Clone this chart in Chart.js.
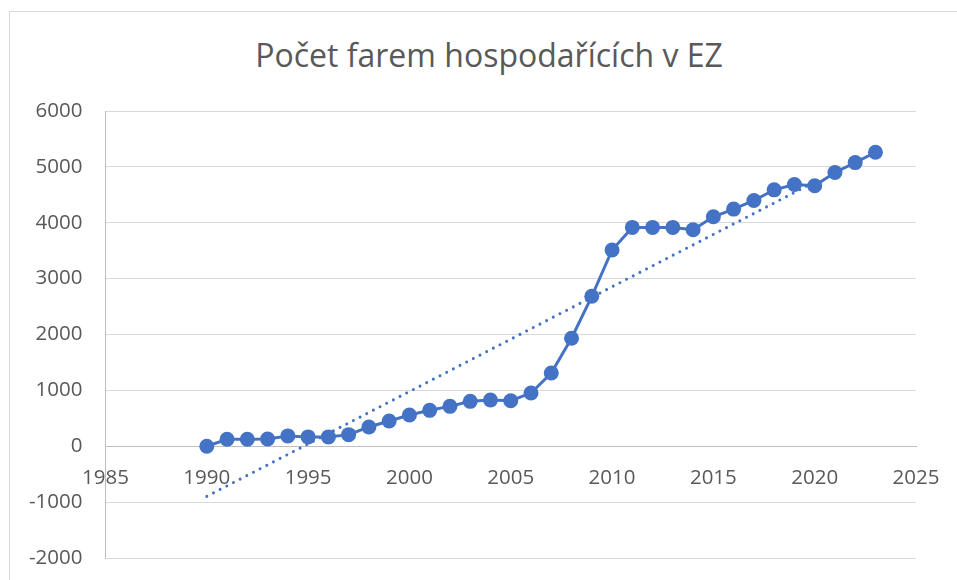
<!DOCTYPE html>
<html>
<head>
<meta charset="utf-8">
<script src="https://cdn.jsdelivr.net/npm/chart.js@4/dist/chart.umd.min.js"></script>
<style>
  body { margin: 0; background: #fff; overflow: hidden; }
  #frame {
    position: absolute; left: 9px; top: 11px;
    width: 2000px; height: 2000px;
    border: 1px solid #d9d9d9;
  }
  #title {
    position: absolute; left: 189px; top: 39px; width: 600px;
    text-align: center;
    font-family: "Open Sans", sans-serif; font-size: 32px; line-height: 32px;
    color: #595959; white-space: nowrap;
  }
  #chart { position: absolute; left: 0; top: 0; }
</style>
</head>
<body>
<div id="frame"></div>
<div id="title">Počet farem hospodařících v EZ</div>
<canvas id="chart" width="957" height="580"></canvas>
<script>
// ── data ──────────────────────────────────────────────────────────────────────

var years = [1990, 1991, 1992, 1993, 1994, 1995, 1996, 1997, 1998, 1999,
             2000, 2001, 2002, 2003, 2004, 2005, 2006, 2007, 2008, 2009,
             2010, 2011, 2012, 2013, 2014, 2015, 2016, 2017, 2018, 2019,
             2020, 2021, 2022, 2023];
var farms = [0, 125, 125, 130, 185, 167, 167, 208, 345, 452,
             560, 643, 714, 804, 827, 815, 952, 1310, 1934, 2684,
             3512, 3917, 3917, 3917, 3875, 4107, 4244, 4399, 4589, 4684,
             4661, 4899, 5077, 5262];

// linear trend, end points
var trendYears  = [1990, 2020];
var trendValues = [-896, 4729];

var xTicks = [1985, 1990, 1995, 2000, 2005, 2010, 2015, 2020, 2025];
var yTicks = [-2000, -1000, 0, 1000, 2000, 3000, 4000, 5000, 6000];

// ── helpers ───────────────────────────────────────────────────────────────────

function toPoints(xs, ys) {
  return xs.map(function(x, i) { return { x: x, y: ys[i] }; });
}

var BLUE = "#4472C4";
var TEXT = "#595959";
var FONT = { family: "Open Sans", size: 20.5 };

// ── chart ─────────────────────────────────────────────────────────────────────

new Chart(document.getElementById("chart").getContext("2d"), {
  type: "scatter",
  data: {
    datasets: [
      {
        label: "trend",
        data: toPoints(trendYears, trendValues),
        showLine: true,
        borderColor: BLUE,
        borderWidth: 3,
        borderDash: [0.001, 7.5],
        borderCapStyle: "round",
        pointRadius: 0,
        fill: false
      },
      {
        label: "Počet farem",
        data: toPoints(years, farms),
        showLine: true,
        borderColor: BLUE,
        borderWidth: 3,
        pointRadius: 7.5,
        pointBackgroundColor: BLUE,
        pointBorderColor: BLUE,
        pointBorderWidth: 0,
        tension: 0,
        fill: false
      }
    ]
  },
  options: {
    responsive: false,
    animation: false,
    layout: { padding: { top: 111, left: 6, right: 41, bottom: 22 } },
    plugins: {
      legend: { display: false },
      tooltip: { enabled: false },
      title: { display: false }
    },
    scales: {
      x: {
        type: "linear",
        position: { y: 0 },
        min: 1985,
        max: 2025,
        afterBuildTicks: function(axis) {
          axis.ticks = xTicks.map(function(v) { return { value: v }; });
        },
        // axis sits at y = 0 inside the plot, so it should not take layout space
        afterFit: function(axis) {
          axis.height = 0;
          axis.paddingLeft = 0;
          axis.paddingRight = 0;
        },
        ticks: {
          color: TEXT,
          font: FONT,
          padding: 20,
          maxRotation: 0,
          callback: function(v) { return String(v); }
        },
        grid: { display: false, drawTicks: false },
        border: { display: true, color: "#bfbfbf", width: 1 }
      },
      y: {
        type: "linear",
        position: "left",
        min: -2000,
        max: 6000,
        afterBuildTicks: function(axis) {
          axis.ticks = yTicks.map(function(v) { return { value: v }; });
        },
        // big tick padding would otherwise push the plot bottom up
        afterFit: function(axis) { axis.paddingTop = 12; axis.paddingBottom = 12; },
        ticks: {
          color: TEXT,
          font: FONT,
          padding: 23,
          callback: function(v) { return String(v); }
        },
        grid: { color: "#d9d9d9", lineWidth: 1, drawTicks: false },
        border: { display: true, color: "#bfbfbf", width: 1 }
      }
    }
  }
});
</script>
</body>
</html>
